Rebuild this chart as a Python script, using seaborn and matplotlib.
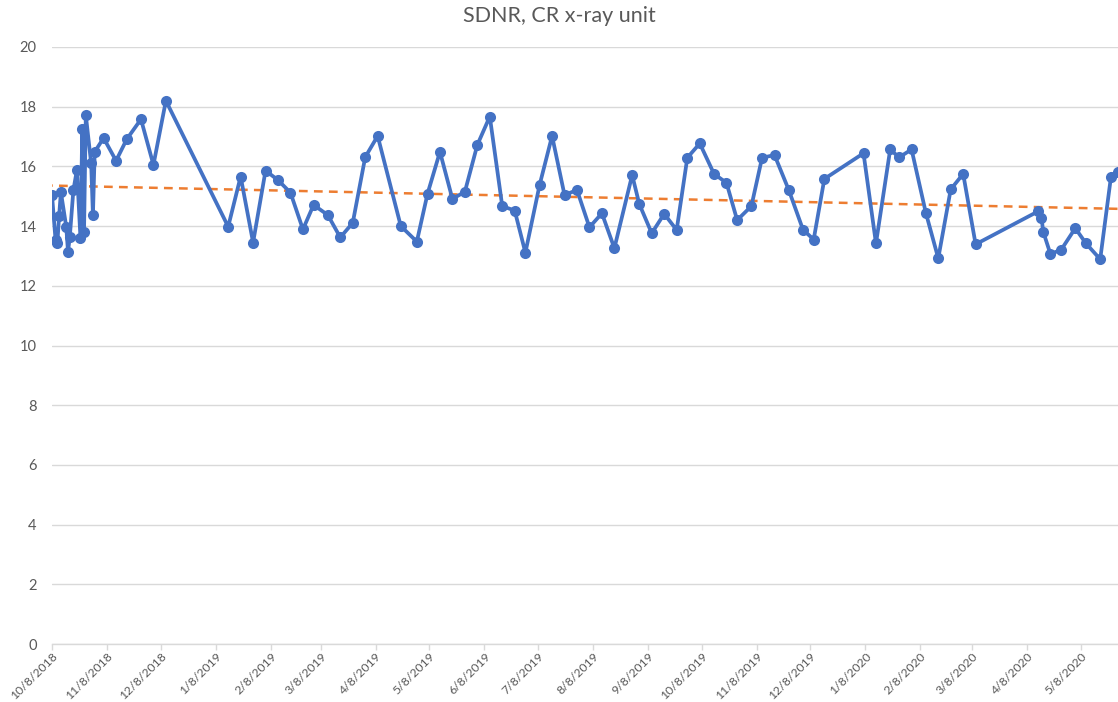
import numpy as np
import pandas as pd
import matplotlib
matplotlib.use("Agg")
import matplotlib.pyplot as plt
import matplotlib.dates as mdates
import seaborn as sns

# ---- data ----
start_date = "2018-10-08"
day_offsets = [0, 2, 3, 4, 5, 8, 9, 10, 12, 14, 16, 17, 18, 19, 22, 23, 24, 29, 36, 42, 50, 57, 64,
               99, 106, 113, 120, 127, 134, 141, 147, 155, 162, 169, 176, 183,
               196, 205, 211, 218, 225, 232, 239, 246, 253, 260, 266, 274, 281, 288, 295,
               302, 309, 316, 326, 330, 337, 344, 351, 357, 364, 372, 379, 385, 393, 399,
               406, 414, 422, 428, 434, 456, 463, 471, 476, 483, 491, 498, 505, 512, 519,
               554, 556, 557, 561, 567, 575, 581, 589, 595, 599]
sdnr = [15.04, 13.53, 13.43, 14.34, 15.14, 13.98, 13.14, 13.64, 15.20, 15.88, 13.59, 17.24, 13.81, 17.72,
        16.10, 14.37, 16.49, 16.95, 16.19, 16.91, 17.58, 16.05, 18.20,
        13.98, 15.66, 13.45, 15.86, 15.54, 15.12, 13.89, 14.71, 14.37, 13.62, 14.11, 16.31, 17.02,
        14.00, 13.48, 15.08, 16.49, 14.91, 15.15, 16.72, 17.67, 14.67, 14.52, 13.11, 15.38, 17.02, 15.04, 15.21,
        13.96, 14.43, 13.26, 15.71, 14.74, 13.76, 14.41, 13.87, 16.29, 16.77, 15.75, 15.45, 14.20, 14.67, 16.29,
        16.38, 15.21, 13.88, 13.55, 15.58, 16.44, 13.42, 16.57, 16.30, 16.57, 14.45, 12.92, 15.23, 15.75, 13.39,
        14.49, 14.28, 13.81, 13.07, 13.20, 13.93, 13.42, 12.89, 15.63, 15.82]
tick_dates = pd.date_range("2018-10-01", "2020-05-01", freq="MS") + pd.Timedelta(days=7)
y_ticks = [0, 2, 4, 6, 8, 10, 12, 14, 16, 18, 20]
title = "SDNR, CR x-ray unit"

dates = pd.Timestamp(start_date) + pd.to_timedelta(day_offsets, unit="D")
df = pd.DataFrame({"x": mdates.date2num(dates), "sdnr": sdnr})

# ---- style ----
sns.set_theme(style="white")
plt.rcParams["font.family"] = ["Lato", "DejaVu Sans"]
grey = "#595959"

fig = plt.figure(figsize=(11.18, 7.02), dpi=100)
ax = fig.add_axes([52 / 1118, 1 - 644 / 702, 1 - 52 / 1118, (644 - 47) / 702])

sns.lineplot(data=df, x="x", y="sdnr", ax=ax, sort=False, estimator=None,
             color="#4472C4", linewidth=2.7, marker="o", markersize=8,
             markeredgewidth=0, zorder=3)
sns.regplot(data=df, x="x", y="sdnr", ax=ax, scatter=False, ci=None, truncate=False,
            line_kws=dict(color="#ED7D31", linestyle=(0, (3.5, 2.5)), linewidth=1.8, zorder=2))

ax.set_xlim(df["x"].iloc[0], df["x"].iloc[-1])
ax.set_ylim(0, 20)
ax.set_yticks(y_ticks)
ax.set_yticklabels([str(v) for v in y_ticks], color=grey, fontsize=10.5)
ax.yaxis.grid(True, color="#d9d9d9", linewidth=1)
ax.xaxis.grid(False)
ax.tick_params(axis="y", length=0, pad=11)

tick_num = mdates.date2num(tick_dates)
ax.set_xticks(tick_num)
ax.set_xticklabels([f"{d.month}/{d.day}/{d.year}" for d in tick_dates], color=grey,
                   fontsize=8.8, rotation=45, ha="right", va="top", rotation_mode="anchor")
ax.tick_params(axis="x", length=4, width=1, color="#d9d9d9", direction="out", pad=1, bottom=True)

for s in ["top", "right", "left"]:
    ax.spines[s].set_visible(False)
ax.spines["bottom"].set_color("#d9d9d9")
ax.spines["bottom"].set_linewidth(1)
ax.set_xlabel("")
ax.set_ylabel("")

fig.text(0.5, 1 - 16 / 702, title, ha="center", va="center", fontsize=15.5, color=grey)

fig.savefig("out.png", dpi=100)
